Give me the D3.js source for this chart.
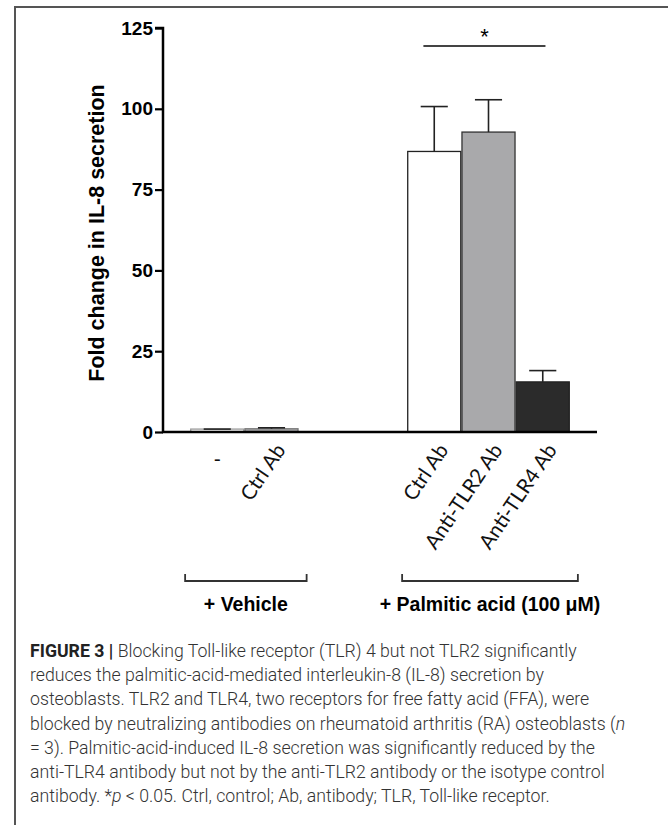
<!DOCTYPE html>
<html><head><meta charset="utf-8">
<script src="https://cdn.jsdelivr.net/npm/d3@7"></script>
<style>body{margin:0;background:#fff}svg{display:block}</style>
</head><body>
<svg id="c" width="668" height="825"></svg>
<script>
// ---- data ----
const slots = ["veh_none","veh_ctrl","gap1","gap2","pa_ctrl","pa_tlr2","pa_tlr4"];
const barIds = ["veh_none","veh_ctrl","pa_ctrl","pa_tlr2","pa_tlr4"];
const barLabels = ["-","Ctrl Ab","Ctrl Ab","Anti-TLR2 Ab","Anti-TLR4 Ab"];
const barValues = [0.9, 1.0, 86.8, 92.8, 15.5];
const barErrTop = [0.9, 1.3, 100.7, 102.8, 19.0];
const barFills = ["#ffffff","#a9a9ab","#ffffff","#a9a9ab","#2b2b2b"];
const barStrokes = ["#9a9a9a","#777","#222","#333","#222"];
const yTicks = [0,25,50,75,100,125];
const groups = [{label:"+ Vehicle", from:"veh_none", to:"veh_ctrl"},
                {label:"+ Palmitic acid (100 μM)", from:"pa_ctrl", to:"pa_tlr4"}];
const sig = {from:"pa_ctrl", to:"pa_tlr4", text:"*"};
const yTitle = "Fold change in IL-8 secretion";
const caption = [
 ["FIGURE 3 | ","Blocking Toll-like receptor (TLR) 4 but not TLR2 significantly"],
 ["","reduces the palmitic-acid-mediated interleukin-8 (IL-8) secretion by"],
 ["","osteoblasts. TLR2 and TLR4, two receptors for free fatty acid (FFA), were"],
 ["","blocked by neutralizing antibodies on rheumatoid arthritis (RA) osteoblasts (<i>n</i>"],
 ["","= 3). Palmitic-acid-induced IL-8 secretion was significantly reduced by the"],
 ["","anti-TLR4 antibody but not by the anti-TLR2 antibody or the isotype control"],
 ["","antibody. *<i>p</i> &lt; 0.05. Ctrl, control; Ab, antibody; TLR, Toll-like receptor."]
];

const svg = d3.select("#c");
// frame
svg.append("path").attr("d","M15,825 V7 H668").attr("fill","none").attr("stroke","#555").attr("stroke-width",2);

const x = d3.scaleBand().domain(slots).range([163,597]).paddingOuter(0.5).paddingInner(0);
const y = d3.scaleLinear().domain([0,125]).range([432,28]);
const bw = x.bandwidth();

// bars
const bars = barIds.map((id,i)=>({id,label:barLabels[i],v:barValues[i],e:barErrTop[i],fill:barFills[i],stroke:barStrokes[i]}));
const g = svg.append("g");
g.selectAll("rect.bar").data(bars).join("rect")
 .attr("x",d=>x(d.id)+0.6).attr("width",bw-1.2)
 .attr("y",d=>y(d.v)).attr("height",d=>y(0)-y(d.v))
 .attr("fill",d=>d.fill).attr("stroke",d=>d.stroke).attr("stroke-width",1.3);
// error bars
const eg = g.selectAll("g.err").data(bars).join("g").attr("stroke","#222").attr("stroke-width",1.6);
eg.append("line").attr("x1",d=>x(d.id)+bw/2).attr("x2",d=>x(d.id)+bw/2).attr("y1",d=>y(d.v)).attr("y2",d=>y(d.e));
eg.append("line").attr("x1",d=>x(d.id)+bw/4).attr("x2",d=>x(d.id)+bw*3/4).attr("y1",d=>y(d.e)).attr("y2",d=>y(d.e));

// y axis
const ya = svg.append("g").attr("transform","translate(163,0)")
 .call(d3.axisLeft(y).tickValues(yTicks).tickSize(8).tickPadding(2).tickFormat(d3.format("d")));
ya.select(".domain").attr("stroke","#000").attr("stroke-width",2.5).attr("d","M-8,"+y(125)+"H0V"+y(0));
ya.selectAll(".tick line").attr("stroke","#000").attr("stroke-width",2.2);
ya.selectAll(".tick text").attr("font-family","Liberation Sans, Arial, sans-serif").attr("font-weight","bold").attr("font-size",19).attr("fill","#000");
// x axis line
const xa = svg.append("g").attr("transform","translate(0,"+y(0)+")")
 .call(d3.axisBottom(x).tickSize(0).tickFormat(""));
xa.select(".domain").attr("stroke","#000").attr("stroke-width",2.5).attr("d","M162,0H597");
xa.selectAll(".tick").remove();

// x labels (the lone "-" sits upright under its bar)
svg.selectAll("text.xl").data(bars).join("text")
 .attr("transform",d=>d.label==="-"
    ? `translate(${x(d.id)+bw/2},${y(0)+28})`
    : `translate(${x(d.id)+bw/2+9},${y(0)+14}) rotate(-56)`)
 .attr("text-anchor",d=>d.label==="-"?"middle":"end").attr("dy","0.35em")
 .attr("font-family","Lato, Open Sans, sans-serif").attr("font-size",20.5).attr("fill","#111")
 .text(d=>d.label);

// y title
svg.append("text").attr("transform","translate(104,233) rotate(-90)")
 .attr("text-anchor","middle").attr("font-family","Liberation Sans, Arial, sans-serif")
 .attr("font-weight","bold").attr("font-size",21.5).attr("fill","#000").text(yTitle);

// significance
const sx1 = x(sig.from)+bw*0.3, sx2 = x(sig.to)+bw*0.55;
svg.append("line").attr("x1",sx1).attr("x2",sx2).attr("y1",46).attr("y2",46).attr("stroke","#444").attr("stroke-width",2);
svg.append("text").attr("x",(sx1+sx2)/2).attr("y",44).attr("text-anchor","middle")
 .attr("font-family","Liberation Sans, Arial, sans-serif").attr("font-size",22).text(sig.text);

// group brackets
groups.forEach(gr=>{
  const a = x(gr.from)-5, b = x(gr.to)+bw+8;
  svg.append("path").attr("d",`M${a},574V581H${b}V574`).attr("fill","none").attr("stroke","#333").attr("stroke-width",1.8);
  svg.append("text").attr("x",(a+b)/2).attr("y",611).attr("text-anchor","middle")
   .attr("font-family","Liberation Sans, Arial, sans-serif").attr("font-weight","bold").attr("font-size",19.5).text(gr.label);
});

// caption
const cg = svg.append("g").attr("font-family","Roboto, sans-serif").attr("font-weight",300).attr("fill","#333");
const fs = 18.5;
caption.forEach((ln,i)=>{
  const t = cg.append("text").attr("x",0).attr("y",657+i*24.2).attr("font-size",fs);
  if(ln[0]) t.append("tspan").attr("font-weight","bold").attr("fill","#222").text(ln[0]);
  const parts = ln[1].split(/(<i>.*?<\/i>)/);
  parts.forEach(p=>{
    if(!p) return;
    const m = p.match(/^<i>(.*)<\/i>$/);
    const s = (m?m[1]:p).replace(/&lt;/g,"<");
    const ts = t.append("tspan").text(s);
    if(m) ts.attr("font-style","italic");
  });
});
// condense horizontally so the first line matches the reference width
const w0 = cg.select("text").node().getComputedTextLength();
cg.attr("transform",`translate(30,0) scale(${547/w0},1)`);
</script>
</body></html>
